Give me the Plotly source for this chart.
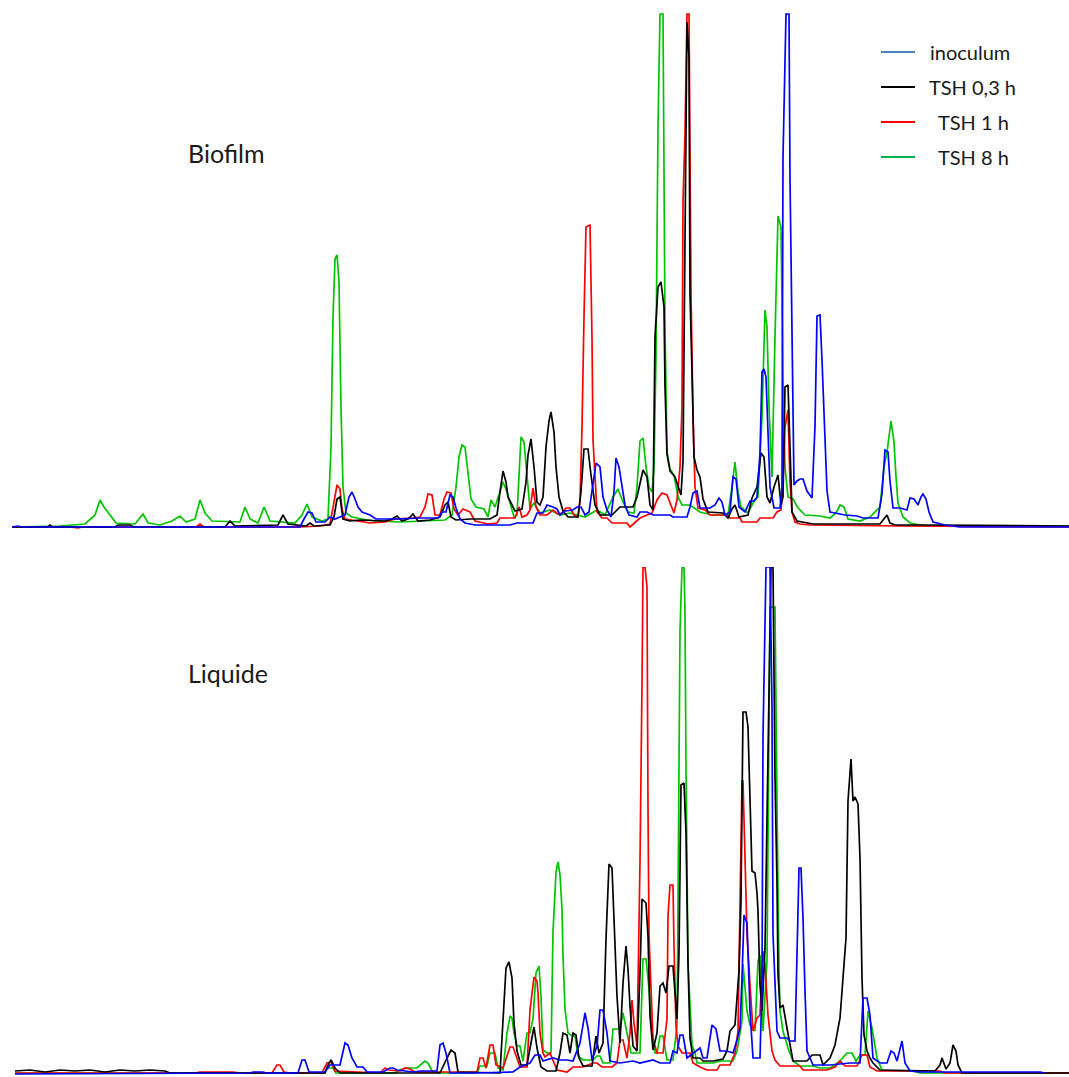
import plotly.graph_objects as go

# =============================================================================
# CE-SSCP profiles
# x = migration position, y = signal height above the baseline
# =============================================================================

series_names = ["inoculum", "TSH 0,3 h", "TSH 1 h", "TSH 8 h"]
series_colors = ["#0000ff", "#000000", "#ff0000", "#00c400"]
legend_colors = ["#4f81bd", "#000000", "#ff0000", "#00b050"]
panel_titles = ["Biofilm", "Liquide"]

# ---- Biofilm ---------------------------------------------------------------

bio_inoculum = [
    (12, 0), (18, 1), (22, 0), (300, 0), (304, 8), (308, 15), (312, 14), (316, 5),
    (325, 5), (330, 10), (335, 8), (340, 10), (345, 12), (349, 30), (352, 35),
    (355, 28), (358, 20), (362, 15), (370, 12), (376, 8), (400, 8), (420, 9),
    (438, 9), (442, 15), (446, 15), (450, 32), (453, 30), (456, 19), (460, 8),
    (465, 4), (475, 2), (510, 2), (517, 4), (533, 4), (537, 14), (543, 14),
    (547, 22), (553, 20), (557, 18), (560, 12), (565, 16), (573, 17), (577, 20),
    (581, 20), (585, 12), (589, 15), (592, 37), (596, 64), (600, 60), (603, 30),
    (607, 17), (611, 10), (614, 35), (616, 69), (619, 60), (622, 40), (625, 22),
    (629, 12), (637, 10), (640, 15), (647, 15), (653, 12), (670, 12), (673, 10),
    (687, 10), (690, 20), (693, 34), (697, 36), (700, 19), (710, 19), (715, 22),
    (719, 29), (722, 25), (725, 12), (730, 15), (733, 50), (736, 48), (739, 20),
    (745, 15), (750, 26), (754, 26), (757, 30), (760, 74), (762, 155), (764, 158),
    (766, 150), (768, 98), (770, 40), (774, 19), (780, 19), (782, 40), (783, 370),
    (786, 513), (789, 513), (790, 349), (792, 184), (794, 42), (797, 46), (800, 48),
    (803, 48), (807, 36), (812, 29), (815, 101), (817, 211), (820, 212), (822, 167),
    (825, 98), (827, 36), (830, 15), (838, 13), (845, 12), (857, 11), (863, 9),
    (878, 9), (882, 33), (885, 77), (888, 75), (890, 46), (893, 19), (900, 19),
    (907, 17), (910, 29), (914, 28), (918, 22), (921, 30), (923, 33), (926, 28),
    (929, 15), (933, 5), (945, 2), (960, 0), (1069, 0),
]

bio_tsh_03 = [
    (12, 0), (48, 0), (50, 2), (52, 0), (115, 0), (118, 2), (130, 2), (134, 0),
    (225, 0), (230, 6), (235, 1), (278, 2), (283, 12), (288, 3), (306, 1), (310, 4),
    (314, 1), (330, 2), (334, 10), (337, 28), (340, 30), (343, 8), (350, 6),
    (360, 7), (385, 6), (392, 8), (397, 11), (402, 6), (408, 8), (413, 13),
    (418, 6), (430, 7), (440, 10), (445, 22), (448, 25), (451, 10), (456, 7),
    (470, 8), (490, 8), (497, 12), (500, 35), (503, 56), (506, 45), (508, 30),
    (511, 24), (515, 16), (522, 18), (526, 45), (528, 72), (531, 88), (534, 60),
    (537, 25), (540, 22), (543, 30), (546, 80), (549, 106), (551, 115), (554, 95),
    (556, 60), (559, 30), (563, 16), (568, 10), (578, 10), (581, 35), (584, 78),
    (588, 78), (591, 52), (595, 22), (600, 12), (612, 12), (620, 20), (633, 20),
    (637, 30), (640, 44), (643, 57), (647, 50), (650, 22), (653, 17), (655, 190),
    (658, 240), (661, 245), (664, 220), (665, 140), (667, 73), (670, 56), (675, 50),
    (678, 40), (681, 32), (683, 66), (685, 257), (687, 505), (689, 470), (690, 233),
    (692, 155), (694, 70), (697, 57), (700, 50), (703, 28), (708, 15), (723, 14),
    (728, 9), (732, 18), (735, 22), (739, 10), (748, 12), (752, 29), (757, 40),
    (761, 74), (764, 70), (767, 30), (770, 24), (774, 40), (778, 52), (781, 22),
    (783, 30), (785, 140), (788, 142), (790, 80), (792, 15), (797, 6), (807, 4),
    (813, 3), (880, 3), (884, 8), (887, 12), (890, 4), (895, 2), (930, 2), (1069, 1),
]

bio_tsh_1 = [
    (12, 0), (70, 0), (78, -1), (82, 0), (196, 0), (200, 3), (204, 0), (300, 0),
    (320, 1), (330, 3), (334, 25), (337, 42), (340, 38), (342, 18), (345, 8),
    (360, 6), (370, 4), (385, 5), (395, 8), (412, 9), (420, 10), (425, 20),
    (428, 33), (432, 32), (435, 12), (440, 12), (444, 28), (447, 35), (451, 34),
    (454, 18), (458, 12), (463, 18), (470, 15), (475, 6), (488, 3), (497, 4),
    (500, 9), (515, 9), (519, 20), (522, 10), (527, 12), (530, 17), (533, 39),
    (536, 20), (540, 12), (547, 12), (553, 17), (558, 13), (562, 14), (566, 19),
    (570, 19), (574, 12), (578, 10), (580, 27), (582, 100), (584, 210), (586, 300),
    (590, 302), (592, 189), (593, 87), (595, 45), (597, 15), (602, 9), (607, 9),
    (612, 4), (627, 4), (630, 0), (635, 5), (640, 9), (647, 12), (652, 14),
    (657, 27), (662, 34), (667, 32), (670, 24), (674, 14), (677, 27), (680, 60),
    (682, 120), (683, 325), (685, 393), (687, 513), (689, 513), (691, 236),
    (693, 110), (695, 40), (698, 19), (705, 17), (710, 12), (727, 12), (730, 9),
    (740, 9), (742, 5), (757, 5), (760, 9), (773, 9), (777, 15), (781, 17),
    (783, 46), (785, 100), (788, 117), (790, 46), (792, 15), (795, 5), (800, 3),
    (810, 2), (900, 1), (1069, 0),
]

bio_tsh_8 = [
    (12, 0), (60, 1), (85, 3), (95, 12), (100, 27), (104, 20), (110, 12), (116, 4),
    (135, 3), (143, 13), (148, 4), (160, 2), (172, 6), (180, 11), (186, 5),
    (195, 8), (200, 27), (205, 14), (212, 6), (240, 5), (245, 20), (250, 8),
    (258, 4), (264, 20), (270, 6), (295, 4), (302, 12), (307, 23), (312, 10),
    (322, 6), (328, 8), (331, 80), (333, 210), (335, 268), (337, 272), (339, 245),
    (341, 120), (343, 40), (346, 14), (352, 10), (362, 8), (375, 6), (400, 5),
    (425, 6), (445, 7), (452, 12), (456, 40), (459, 70), (462, 82), (465, 80),
    (468, 55), (471, 28), (476, 20), (484, 18), (488, 10), (491, 27), (495, 20),
    (499, 32), (503, 45), (507, 35), (510, 25), (514, 10), (517, 12), (519, 60),
    (521, 90), (524, 85), (527, 50), (530, 18), (534, 24), (540, 14), (550, 17),
    (560, 12), (570, 14), (585, 10), (597, 17), (605, 12), (613, 30), (618, 38),
    (623, 25), (628, 15), (634, 14), (637, 40), (640, 86), (643, 89), (646, 60),
    (649, 40), (652, 35), (654, 60), (656, 170), (658, 400), (660, 513), (663, 513),
    (665, 200), (667, 75), (670, 58), (674, 52), (678, 30), (682, 22), (690, 22),
    (700, 15), (712, 12), (728, 12), (732, 40), (735, 65), (738, 35), (741, 20),
    (748, 14), (753, 24), (758, 30), (762, 110), (765, 217), (767, 200), (769, 120),
    (772, 50), (775, 190), (778, 311), (781, 300), (783, 150), (785, 60), (788, 30),
    (793, 28), (798, 19), (805, 12), (820, 11), (830, 9), (836, 14), (840, 22),
    (844, 20), (848, 8), (860, 6), (870, 10), (874, 14), (880, 20), (884, 60),
    (887, 75), (891, 106), (894, 85), (896, 50), (898, 24), (903, 10), (910, 4),
    (925, 1), (960, 1), (1069, 1),
]

# ---- Liquide ---------------------------------------------------------------

liq_inoculum = [
    (15, -1), (250, 0), (253, 1), (263, 1), (266, 0), (298, 0), (302, 13), (305, 13),
    (309, 1), (325, 1), (330, 8), (340, 8), (345, 30), (348, 28), (352, 15),
    (357, 6), (363, 6), (367, 1), (383, 1), (390, 5), (393, 5), (397, 3), (413, 1),
    (420, 2), (437, 2), (440, 28), (443, 30), (446, 20), (450, 0), (473, 0),
    (513, 1), (520, 6), (530, 10), (535, 18), (540, 18), (543, 12), (553, 15),
    (560, 13), (567, 13), (573, 12), (580, 30), (585, 60), (588, 45), (592, 13),
    (597, 27), (600, 63), (603, 63), (607, 40), (610, 12), (620, 10), (633, 12),
    (640, 10), (653, 13), (660, 10), (670, 10), (673, 22), (677, 20), (680, 38),
    (683, 38), (687, 15), (700, 25), (703, 15), (707, 15), (712, 48), (716, 44),
    (720, 22), (727, 22), (733, 20), (737, 33), (740, 45), (742, 95), (744, 158),
    (747, 150), (750, 62), (753, 15), (760, 15), (762, 88), (763, 336), (766, 506),
    (770, 506), (772, 366), (773, 139), (777, 42), (780, 35), (787, 35), (790, 32),
    (795, 32), (797, 105), (799, 205), (801, 205), (803, 155), (805, 82), (807, 22),
    (813, 8), (830, 8), (850, 10), (860, 10), (863, 75), (867, 75), (870, 58),
    (873, 15), (880, 10), (887, 10), (891, 22), (894, 20), (897, 12), (902, 32),
    (905, 10), (910, 2), (920, 1), (1040, 1), (1045, 0),
]

liq_tsh_03 = [
    (15, 2), (30, 3), (45, 1), (60, 3), (75, 2), (90, 3), (105, 1), (120, 3),
    (135, 2), (150, 3), (165, 2), (170, 0), (325, 0), (328, 8), (331, 13), (335, 5),
    (340, 0), (440, 0), (447, 15), (451, 23), (455, 20), (458, 1), (500, 0),
    (503, 55), (506, 105), (509, 111), (512, 95), (514, 50), (517, 22), (521, 8),
    (527, 8), (531, 30), (534, 46), (537, 25), (541, 6), (547, 2), (556, 2),
    (560, 20), (563, 40), (567, 38), (570, 20), (573, 40), (576, 38), (579, 15),
    (583, 7), (592, 7), (596, 37), (599, 20), (603, 30), (606, 134), (609, 209),
    (612, 205), (615, 134), (617, 77), (620, 30), (623, 90), (626, 127), (628, 104),
    (630, 67), (633, 27), (637, 22), (640, 100), (642, 174), (646, 170), (648, 137),
    (650, 57), (653, 23), (657, 40), (660, 87), (663, 90), (666, 80), (669, 107),
    (673, 107), (675, 77), (677, 54), (679, 120), (681, 288), (684, 290), (686, 240),
    (688, 110), (690, 35), (693, 15), (700, 15), (703, 12), (713, 12), (723, 14),
    (727, 22), (730, 42), (735, 48), (739, 102), (741, 172), (743, 361), (746, 361),
    (748, 346), (750, 279), (752, 202), (755, 200), (757, 180), (758, 162),
    (760, 88), (762, 62), (765, 125), (767, 255), (769, 389), (771, 506), (773, 506),
    (775, 296), (777, 189), (778, 99), (780, 65), (783, 68), (787, 45), (790, 28),
    (793, 12), (807, 12), (812, 18), (820, 18), (823, 8), (830, 15), (835, 28),
    (840, 55), (843, 100), (846, 135), (848, 272), (851, 314), (853, 272),
    (855, 276), (858, 269), (860, 215), (862, 95), (864, 38), (867, 22), (870, 15),
    (873, 10), (880, 3), (935, 2), (940, 8), (942, 15), (946, 4), (950, 10),
    (953, 28), (956, 22), (958, 8), (962, 0), (1069, 0),
]

liq_tsh_1 = [
    (15, 0), (195, 0), (200, 1), (233, 1), (240, 0), (272, 0), (277, 8), (280, 8),
    (284, 1), (290, 0), (322, 0), (327, 10), (331, 11), (335, 2), (380, 0),
    (385, 5), (388, 3), (400, 2), (405, 5), (410, 4), (415, 1), (460, 1), (477, 1),
    (480, 15), (483, 15), (486, 5), (490, 28), (493, 28), (496, 8), (503, 5),
    (507, 16), (510, 26), (513, 26), (517, 15), (520, 6), (527, 6), (530, 63),
    (534, 96), (537, 92), (538, 80), (540, 40), (543, 20), (545, 16), (550, 20),
    (553, 13), (557, 3), (567, 1), (573, 6), (583, 6), (593, 10), (597, 10),
    (602, 6), (612, 6), (617, 10), (620, 33), (623, 33), (627, 15), (630, 40),
    (632, 73), (634, 50), (637, 26), (640, 211), (642, 389), (643, 506), (645, 506),
    (647, 486), (648, 265), (649, 137), (652, 60), (653, 34), (657, 20), (663, 20),
    (667, 54), (668, 157), (670, 188), (673, 188), (674, 127), (676, 47), (678, 27),
    (682, 20), (690, 20), (693, 10), (700, 6), (707, 3), (717, 3), (720, 8),
    (730, 8), (735, 20), (738, 42), (740, 179), (742, 292), (743, 292), (745, 225),
    (747, 139), (750, 88), (753, 42), (757, 55), (760, 58), (763, 122), (765, 108),
    (768, 58), (772, 22), (775, 13), (780, 7), (800, 7), (803, 3), (827, 3),
    (835, 6), (840, 12), (845, 7), (857, 7), (862, 18), (867, 18), (870, 6),
    (877, 2), (940, 2), (945, 0), (1069, 0),
]

liq_tsh_8 = [
    (15, 0), (325, 0), (327, 5), (333, 5), (336, 0), (395, 0), (400, 3), (407, 5),
    (417, 5), (420, 8), (425, 12), (428, 10), (432, 2), (440, 0), (477, 0),
    (480, 7), (487, 7), (490, 20), (495, 20), (498, 5), (503, 3), (507, 40),
    (510, 57), (512, 55), (514, 40), (517, 27), (520, 27), (523, 12), (527, 40),
    (530, 40), (533, 54), (536, 100), (539, 107), (541, 77), (543, 23), (547, 20),
    (551, 20), (553, 141), (556, 201), (558, 211), (560, 198), (562, 164),
    (563, 117), (565, 64), (568, 40), (572, 37), (575, 37), (578, 17), (583, 13),
    (593, 13), (597, 17), (600, 17), (603, 10), (610, 10), (613, 44), (620, 44),
    (623, 60), (627, 40), (631, 20), (640, 20), (643, 114), (646, 114), (649, 84),
    (652, 40), (655, 20), (657, 20), (660, 37), (663, 37), (667, 13), (673, 13),
    (677, 47), (678, 168), (680, 442), (682, 506), (684, 506), (685, 461),
    (686, 304), (688, 110), (692, 28), (695, 20), (697, 10), (713, 10), (720, 12),
    (733, 12), (737, 22), (742, 52), (743, 109), (747, 62), (750, 48), (755, 42),
    (758, 112), (760, 118), (763, 42), (767, 112), (770, 466), (775, 466),
    (776, 346), (777, 269), (779, 105), (780, 62), (783, 42), (788, 25), (793, 12),
    (800, 7), (813, 7), (820, 5), (830, 5), (835, 8), (840, 12), (847, 20),
    (852, 20), (856, 12), (860, 18), (865, 18), (868, 62), (872, 45), (877, 15),
    (882, 3), (897, 2), (913, 2), (920, 0), (1069, 0),
]

biofilm = [bio_inoculum, bio_tsh_03, bio_tsh_1, bio_tsh_8]
liquide = [liq_inoculum, liq_tsh_03, liq_tsh_1, liq_tsh_8]

# =============================================================================
# Plot: two stacked panels, no axes
# =============================================================================

W, H = 1069, 1077
fig = go.Figure()

# green first, blue last (on top)
draw_order = [3, 2, 1, 0]
for xa, ya, panel in [("x", "y", biofilm), ("x2", "y2", liquide)]:
    for i in draw_order:
        xs, ys = zip(*panel[i])
        fig.add_trace(go.Scatter(
            x=xs, y=ys, mode="lines", name=series_names[i],
            line=dict(color=series_colors[i], width=1.7),
            xaxis=xa, yaxis=ya, showlegend=False, hoverinfo="skip",
        ))

hidden = dict(visible=False, showgrid=False, zeroline=False, fixedrange=True)
fig.update_layout(
    width=W, height=H,
    margin=dict(l=0, r=0, t=0, b=0),
    paper_bgcolor="white", plot_bgcolor="white",
    xaxis=dict(domain=[0, 1], range=[0, W], anchor="y", **hidden),
    yaxis=dict(domain=[(H - 545) / H, 1], range=[-18, 527], anchor="x", **hidden),
    xaxis2=dict(domain=[0, 1], range=[0, W], anchor="y2", **hidden),
    yaxis2=dict(domain=[0, (H - 567) / H], range=[-4, 506], anchor="x2", **hidden),
)

# panel titles
text_font = dict(family="Lato, 'Liberation Sans', sans-serif", color="#1a1a1a")
for title, py in zip(panel_titles, [153, 673]):
    fig.add_annotation(
        text=title, x=186 / W, y=1 - py / H, xref="paper", yref="paper",
        xanchor="left", yanchor="middle", showarrow=False,
        font=dict(size=25, **text_font),
    )

# hand-drawn legend, top right
legend_rows = [52, 87, 122, 157]
legend_text_x = [928, 927, 936, 936]
for name, col, py, tx in zip(series_names, legend_colors, legend_rows, legend_text_x):
    fig.add_shape(
        type="line", xref="paper", yref="paper",
        x0=881 / W, x1=915 / W, y0=1 - py / H, y1=1 - py / H,
        line=dict(color=col, width=2),
    )
    fig.add_annotation(
        text=name, x=tx / W, y=1 - py / H, xref="paper", yref="paper",
        xanchor="left", yanchor="middle", showarrow=False,
        font=dict(size=20, **text_font),
    )

fig.write_html(
    "out.html",
    config={"displayModeBar": False},
    post_script="document.body.style.margin='0';",
)
